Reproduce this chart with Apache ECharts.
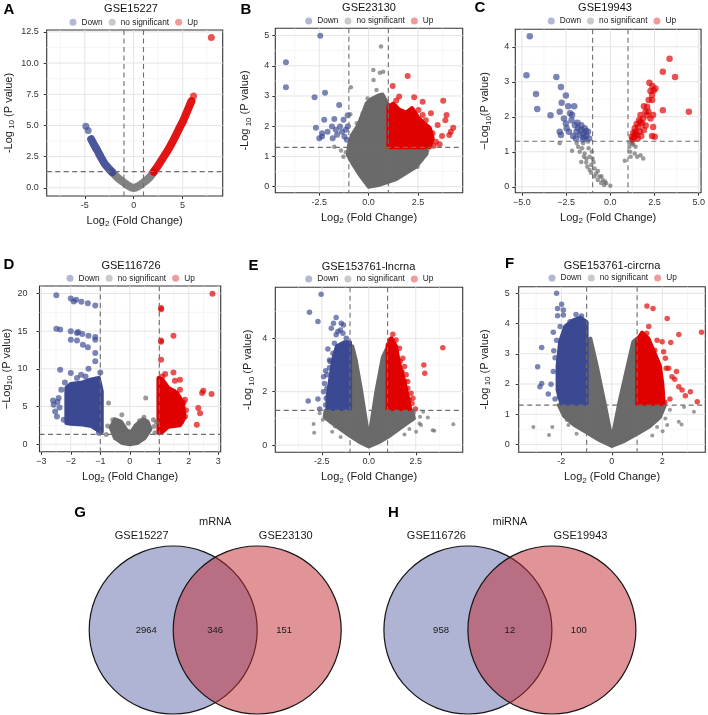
<!DOCTYPE html>
<html>
<head>
<meta charset="utf-8">
<title>Volcano plots and Venn diagrams</title>
<script src="https://cdn.jsdelivr.net/npm/echarts@6/dist/echarts.min.js"></script>
<style>
  html, body { margin: 0; padding: 0; background: #fff; }
  #chart { width: 708px; height: 715px; }
</style>
</head>
<body>
<div id="chart"></div>
<script>
// ---- cut-offs ----
const LOGFC_CUT = [-1, 1];
const P_CUT = [1.3];
const LEGEND_NAMES = ['Down', 'no significant', 'Up'];

// ---- A: GSE15227 ----
const aXTicks = [-5, 0, 5];
const aXLabels = ['-5', '0', '5'];
const aXMinor = [-7.5, -2.5, 2.5, 7.5];
const aYTicks = [0, 2.5, 5, 7.5, 10, 12.5];
const aYLabels = ['0.0', '2.5', '5.0', '7.5', '10.0', '12.5'];
const aYMinor = [1.25, 3.75, 6.25, 8.75, 11.25];
const aDownCurve = [[-4.35, 3.9], [-4.05, 3.45], [-3.72, 3.0], [-3.35, 2.45], [-2.97, 1.93], [-2.55, 1.55], [-2.2, 1.26]];
const aNsCurve = [[-2.2, 1.26], [-1.7, 0.85], [-1.0, 0.42], [-0.5, 0.15], [0, 0], [0.5, 0.15], [1.0, 0.42], [1.6, 0.82], [2.05, 1.26]];
const aUpCurve = [[2.05, 1.3], [2.5, 1.8], [3.04, 2.46], [3.55, 3.1], [4.05, 3.8], [4.55, 4.6], [5.07, 5.4], [5.5, 6.2], [5.9, 6.95]];
const aDown = [[-4.9, 4.93], [-4.66, 4.6]];
const aUp = [[6.12, 7.36], [7.94, 12.04]];

// ---- B: GSE23130 ----
const bXTicks = [-2.5, 0, 2.5];
const bXLabels = ['-2.5', '0.0', '2.5'];
const bXMinor = [-3.75, -1.25, 1.25, 3.75];
const bYTicks = [0, 1, 2, 3, 4, 5];
const bYLabels = ['0', '1', '2', '3', '4', '5'];
const bYMinor = [0.5, 1.5, 2.5, 3.5, 4.5];
const bNsCloud = [[0, 0], [-0.4, 0.35], [-0.8, 0.75], [-1.05, 1.05], [-1.0, 1.35], [-0.85, 1.7], [-0.55, 2.0], [-0.3, 2.4], [-0.1, 2.75], [0.15, 2.9], [0.45, 3.0], [0.7, 3.05], [0.95, 2.75], [1.0, 1.3], [2.0, 1.3], [2.9, 1.3], [2.95, 1.1], [2.4, 0.66], [1.4, 0.25], [0.5, 0.05]];
const bUpCloud = [[1.0, 1.3], [1.0, 2.6], [1.25, 2.75], [1.55, 2.55], [1.9, 2.45], [2.2, 2.6], [2.5, 2.3], [2.8, 2.1], [3.1, 1.95], [3.25, 1.6], [3.1, 1.3]];
const bDown = [[-4.19, 4.12], [-4.19, 3.29], [-2.45, 4.99], [-2.74, 2.96], [-2.21, 3.11], [-1.49, 2.7], [-1.06, 2.36], [-2.67, 1.95], [-2.25, 2.21], [-1.74, 2.24], [-1.27, 2.21], [-2.36, 1.77], [-2.08, 1.82], [-1.86, 1.99], [-1.66, 1.88], [-1.45, 1.99], [-1.35, 1.82], [-1.15, 1.88], [-1.05, 2.0], [-2.36, 1.66], [-1.82, 1.6], [-1.23, 1.66], [-2.5, 1.6], [-1.6, 1.72], [-1.1, 1.55]];
const bNs = [[0.63, 4.64], [0.24, 3.86], [0.57, 3.77], [0.74, 3.8], [0.25, 3.53], [-0.9, 3.29], [-0.93, 2.4], [-1.74, 1.32], [-1.15, 1.14], [-1.28, 0.99], [2.74, 0.99], [2.99, 1.21], [2.48, 0.66], [-0.3, 2.43], [-0.05, 2.92], [0.4, 3.2], [-0.6, 2.1], [-0.8, 1.7], [1.8, 0.5], [2.2, 0.85], [-0.5, 1.2], [-1.4, 1.2]];
const bUp = [[1.22, 3.33], [1.98, 3.66], [1.55, 2.98], [2.31, 2.96], [2.74, 2.81], [3.78, 2.84], [3.95, 2.37], [3.89, 2.2], [4.29, 1.95], [4.17, 1.82], [4.09, 1.71], [3.5, 2.04], [3.24, 1.77], [3.72, 1.68], [3.07, 1.55], [3.41, 1.49], [1.05, 2.67], [2.53, 2.54], [3.16, 2.43], [2.74, 2.37], [3.6, 1.4], [2.9, 2.2], [1.4, 2.85], [3.3, 1.35]];

// ---- C: GSE19943 ----
const cXTicks = [-5, -2.5, 0, 2.5, 5];
const cXLabels = ['\u22125.0', '\u22122.5', '0.0', '2.5', '5.0'];
const cXMinor = [-3.75, -1.25, 1.25, 3.75];
const cYTicks = [0, 1, 2, 3, 4];
const cYLabels = ['0', '1', '2', '3', '4'];
const cYMinor = [0.5, 1.5, 2.5, 3.5];
const cDown = [[-4.55, 4.3], [-4.74, 3.19], [-4.2, 2.65], [-4.13, 2.22], [-3.38, 2.04], [-3.05, 3.14], [-2.79, 2.85], [-2.51, 2.61], [-2.75, 2.4], [-2.86, 2.14], [-2.38, 2.3], [-2.04, 2.3], [-2.27, 2.1], [-2.51, 1.81], [-2.86, 1.57], [-2.79, 1.48], [-2.19, 1.9], [-2.0, 1.76], [-1.82, 1.67], [-1.64, 1.62], [-1.45, 1.67], [-1.91, 1.57], [-1.73, 1.48], [-1.54, 1.52], [-1.36, 1.45], [-1.26, 1.57], [-1.49, 1.41], [-2.16, 2.05], [-2.47, 1.67], [-2.34, 1.57], [-1.86, 1.83], [-1.64, 1.76], [-1.38, 1.59], [-2.1, 1.45], [-1.2, 1.38], [-1.95, 1.38], [-1.55, 1.35], [-2.62, 1.95]];
const cNs = [[-2.86, 1.24], [-2.16, 1.03], [-1.82, 1.14], [-1.54, 1.24], [-1.26, 1.29], [-1.73, 1.0], [-1.45, 0.95], [-1.17, 0.86], [-1.36, 0.69], [-1.08, 0.62], [-0.89, 0.52], [-1.17, 0.48], [-0.8, 0.38], [-0.61, 0.29], [-0.43, 0.19], [-0.24, 0.1], [0, 0.03], [-0.52, 0.11], [-1.08, 0.4], [-1.3, 0.57], [-1.49, 0.86], [-1.64, 0.71], [-0.89, 0.29], [-0.71, 0.19], [-1.23, 1.1], [-1.04, 1.0], [-0.95, 0.7], [-0.7, 0.45], [-1.0, 0.8], [-1.6, 1.1], [-1.35, 0.8], [-1.9, 1.25], [-0.5, 0.3], [-0.3, 0.15], [0.82, 0.74], [1.15, 0.86], [1.12, 1.0], [1.08, 1.14], [1.25, 1.24], [1.43, 1.14], [1.38, 0.95], [1.71, 0.9], [1.86, 0.81], [1.52, 0.86], [1.23, 1.33], [1.3, 1.2], [1.15, 1.25], [-0.35, 0.05]];
const cUp = [[3.35, 3.66], [2.97, 3.29], [3.66, 3.14], [4.44, 2.14], [2.97, 2.19], [2.42, 1.71], [2.36, 1.45], [2.51, 1.43], [2.38, 2.88], [2.55, 2.81], [2.27, 2.74], [2.36, 2.62], [2.17, 2.48], [2.08, 2.29], [1.9, 2.3], [1.99, 2.14], [1.71, 2.05], [1.62, 1.9], [1.49, 1.79], [1.38, 1.67], [1.3, 1.54], [1.21, 1.43], [1.43, 1.57], [1.58, 1.71], [1.8, 1.81], [1.9, 1.62], [2.36, 2.48], [2.42, 2.05], [2.27, 1.95], [2.08, 2.05], [1.86, 1.95], [1.67, 1.57], [1.49, 1.48], [1.34, 1.41], [2.21, 2.97], [1.75, 1.45], [1.55, 1.38], [2.0, 1.75], [1.7, 1.85], [2.15, 2.15], [1.25, 1.35], [1.4, 1.5], [2.45, 2.75]];

// ---- D: GSE116726 ----
const dXTicks = [-3, -2, -1, 0, 1, 2, 3];
const dXLabels = ['\u22123', '\u22122', '\u22121', '0', '1', '2', '3'];
const dXMinor = [-2.5, -1.5, -0.5, 0.5, 1.5, 2.5];
const dYTicks = [0, 5, 10, 15, 20];
const dYLabels = ['0', '5', '10', '15', '20'];
const dYMinor = [2.5, 7.5, 12.5, 17.5];
const dNsCloud = [[-0.65, 2.2], [-0.5, 3.3], [-0.3, 3.0], [-0.1, 1.8], [0.05, 1.6], [0.2, 2.5], [0.45, 3.3], [0.6, 3.0], [0.7, 2.0], [0.5, 0.8], [0.25, 0.15], [0, 0], [-0.25, 0.15], [-0.5, 0.8]];
const dDownCloud = [[-2.15, 2.8], [-2.15, 7.5], [-2.0, 8.0], [-1.6, 8.2], [-1.3, 8.6], [-1.05, 8.8], [-0.95, 7.0], [-0.95, 1.6], [-1.1, 1.9], [-1.3, 2.4], [-1.6, 2.6], [-2.0, 2.7]];
const dUpCloud = [[0.97, 1.5], [0.97, 8.8], [1.1, 8.6], [1.3, 7.5], [1.6, 6.8], [1.8, 5.5], [1.85, 3.5], [1.7, 2.5], [1.3, 2.3], [1.1, 1.6]];
const dDown = [[-2.49, 19.78], [-2.0, 19.33], [-1.82, 19.16], [-1.64, 18.9], [-1.42, 18.71], [-1.17, 18.4], [-2.49, 15.34], [-2.36, 15.21], [-2.0, 14.99], [-1.79, 14.77], [-1.61, 14.63], [-1.4, 14.41], [-1.17, 14.24], [-2.0, 13.88], [-1.79, 13.75], [-1.59, 13.21], [-1.42, 12.86], [-1.17, 13.88], [-1.17, 12.11], [-2.36, 9.89], [-2.0, 9.45], [-1.4, 10.02], [-1.65, 9.22], [-1.17, 11.0], [-1.79, 8.78], [-1.17, 8.56], [-2.58, 5.23], [-2.47, 3.68], [-2.24, 3.24], [-2.41, 6.12], [-2.32, 7.23], [-2.53, 4.35], [-2.38, 4.88], [-2.6, 5.8], [-2.45, 5.6], [-2.2, 8.2], [-1.5, 9.0], [-1.0, 9.5], [-1.05, 1.5], [-1.9, 18.95], [-1.75, 14.9]];
const dNs = [[-0.72, 5.45], [-0.58, 3.24], [-0.27, 3.9], [-0.05, 2.79], [0.54, 6.12], [0.48, 3.59], [0.8, 3.24], [0.82, 2.35], [0.33, 3.1], [-0.75, 2.4], [0.85, 1.5], [-0.8, 1.3], [0.9, 2.9]];
const dUp = [[1.06, 18.09], [1.06, 13.75], [1.06, 11.22], [1.48, 14.41], [1.48, 9.53], [1.2, 9.31], [1.53, 8.43], [1.7, 8.56], [1.7, 7.23], [1.48, 7.0], [1.82, 5.54], [1.87, 3.68], [2.32, 4.79], [2.38, 4.12], [2.27, 2.57], [2.49, 7.1], [2.45, 6.78], [2.77, 6.65], [2.8, 19.96], [1.87, 5.9], [1.06, 17.9], [1.06, 13.6], [1.1, 9.0], [1.9, 4.5], [1.75, 3.0]];

// ---- E: GSE153761-lncrna ----
const eXTicks = [-2.5, 0, 2.5];
const eXLabels = ['-2.5', '0.0', '2.5'];
const eXMinor = [-3.75, -1.25, 1.25, 3.75];
const eYTicks = [0, 2, 4];
const eYLabels = ['0', '2', '4'];
const eYMinor = [1, 3, 5];
const eNsCloud = [[0, -0.05], [-0.5, 0.12], [-1.0, 0.35], [-1.5, 0.6], [-2.0, 0.85], [-2.35, 1.05], [-2.3, 1.3], [-1.0, 1.3], [-1.0, 3.6], [-0.88, 3.7], [-0.7, 3.2], [-0.4, 2.0], [-0.1, 0.65], [0, 0.55], [0.1, 0.65], [0.4, 2.0], [0.75, 3.3], [0.95, 3.6], [1.0, 1.3], [2.3, 1.3], [2.4, 1.0], [2.0, 0.8], [1.5, 0.55], [1.0, 0.3], [0.5, 0.1]];
const eDownCloud = [[-1.0, 1.35], [-1.0, 3.85], [-1.3, 3.85], [-1.7, 3.7], [-1.9, 3.2], [-2.05, 2.5], [-2.2, 1.8], [-2.2, 1.35]];
const eUpCloud = [[1.0, 1.35], [1.0, 3.75], [1.2, 4.0], [1.45, 3.7], [1.6, 3.1], [1.85, 2.5], [2.05, 1.9], [2.2, 1.35]];
const eDown = [[-2.54, 5.65], [-3.16, 4.98], [-2.71, 4.63], [-1.74, 4.78], [-1.88, 4.56], [-1.47, 4.56], [-2.0, 4.38], [-1.65, 4.25], [-1.38, 4.19], [-1.74, 4.13], [-1.83, 3.81], [-2.18, 3.6], [-2.09, 3.19], [-1.91, 3.44], [-2.3, 2.78], [-2.41, 2.56], [-2.23, 2.63], [-2.36, 2.31], [-2.41, 2.0], [-2.23, 2.13], [-3.23, 1.65], [-2.71, 1.73], [-2.62, 1.35], [-2.27, 1.75], [-2.06, 3.13], [-1.51, 4.31], [-1.35, 4.5], [-1.2, 4.0], [-2.1, 2.9], [-2.3, 1.5]];
const eNs = [[-2.94, 0.79], [-2.91, 0.46], [-1.95, 0.5], [-2.27, 1.0], [3.14, 1.03], [2.73, 1.06], [3.4, 0.56], [3.49, 0.54], [4.5, 0.78], [2.7, 0.81], [2.52, 0.5], [2.16, 0.6], [2.78, 0.75], [-2.13, 1.25], [-2.62, 1.19], [-2.45, 0.95], [-1.8, 0.7], [2.4, 1.2], [1.9, 0.4], [-1.5, 0.3], [2.9, 1.25]];
const eUp = [[1.28, 4.15], [1.45, 3.94], [1.63, 3.63], [1.42, 3.5], [1.67, 3.13], [1.9, 2.94], [1.77, 2.75], [1.99, 2.63], [1.9, 2.38], [2.07, 2.38], [2.07, 2.13], [2.25, 1.94], [2.3, 1.56], [2.48, 1.35], [2.93, 3.0], [2.98, 2.69], [3.94, 3.65], [1.13, 3.94], [1.24, 3.44], [1.81, 3.25], [2.15, 1.7], [2.35, 1.75]];

// ---- F: GSE153761-circrna ----
const fXTicks = [-2, 0, 2];
const fXLabels = ['-2', '0', '2'];
const fXMinor = [-3, -1, 1, 3];
const fYTicks = [0, 1, 2, 3, 4, 5];
const fYLabels = ['0', '1', '2', '3', '4', '5'];
const fYMinor = [0.5, 1.5, 2.5, 3.5, 4.5];
const fNsCloud = [[0, -0.05], [-0.5, 0.15], [-1.0, 0.4], [-1.5, 0.65], [-1.9, 0.95], [-2.1, 1.3], [-1.0, 1.3], [-1.0, 3.4], [-0.85, 3.5], [-0.6, 2.6], [-0.3, 1.4], [-0.05, 0.35], [0, 0.25], [0.05, 0.35], [0.3, 1.4], [0.6, 2.5], [0.85, 3.4], [1.0, 3.5], [1.0, 1.3], [2.1, 1.3], [1.9, 0.9], [1.5, 0.6], [1.0, 0.35], [0.5, 0.12]];
const fDownCloud = [[-1.0, 1.35], [-1.0, 4.05], [-1.25, 4.2], [-1.55, 4.1], [-1.85, 3.9], [-2.05, 3.4], [-2.15, 2.6], [-2.15, 1.8], [-2.0, 1.35]];
const fUpCloud = [[1.0, 1.35], [1.0, 3.45], [1.2, 3.7], [1.45, 3.5], [1.65, 3.1], [1.9, 2.6], [2.0, 2.0], [2.05, 1.35]];
const fDown = [[-2.19, 5.0], [-1.99, 4.64], [-2.15, 4.5], [-1.92, 4.45], [-2.15, 4.26], [-1.92, 4.28], [-2.32, 3.71], [-2.05, 3.9], [-2.19, 3.45], [-2.78, 3.21], [-2.94, 2.57], [-2.78, 2.02], [-2.85, 1.91], [-2.41, 1.99], [-2.52, 1.67], [-2.25, 2.87], [-2.32, 2.41], [-2.09, 2.63], [-2.08, 1.58], [-1.99, 1.85], [-1.42, 4.3], [-1.66, 4.06], [-2.3, 3.1], [-2.25, 1.5], [-1.2, 4.25]];
const fNs = [[-3.11, 0.58], [-2.49, 0.31], [-2.36, 0.58], [-1.88, 0.97], [-1.79, 0.81], [-1.72, 0.64], [2.12, 0.86], [2.19, 0.64], [2.65, 0.75], [2.76, 0.66], [2.86, 1.24], [3.25, 1.08], [2.01, 0.44], [1.79, 0.58], [-1.59, 1.03], [-2.0, 1.2], [2.3, 1.15], [1.6, 0.3], [-1.4, 0.35]];
const fUp = [[1.39, 4.58], [1.63, 4.5], [1.46, 3.9], [1.38, 3.68], [2.19, 4.17], [1.79, 3.45], [1.99, 3.4], [2.33, 3.37], [2.65, 3.64], [3.55, 3.71], [2.05, 3.07], [1.7, 3.12], [2.12, 2.85], [1.79, 2.74], [2.15, 2.52], [2.56, 2.41], [2.38, 2.24], [2.49, 2.16], [2.65, 1.91], [2.78, 1.8], [3.11, 1.74], [2.91, 1.61], [3.38, 1.41], [1.92, 2.07], [2.25, 2.52], [1.99, 1.74], [2.3, 1.5], [2.1, 1.4]];

// ---- G / H: Venn diagrams ----
const vennCircles = [[-0.5, 0, 1], [0.5, 0, 1]];
const gTitle = 'mRNA';
const gSets = ['GSE15227', 'GSE23130'];
const gCounts = [2964, 346, 151];
const hTitle = 'miRNA';
const hSets = ['GSE116726', 'GSE19943'];
const hCounts = [958, 12, 100];
const vennCountX = [-0.82, 0, 0.82];

// ---------------------------------------------------------------
const FONT = 'Liberation Sans, Arial, Helvetica, sans-serif';
const COL_DOWN = '#3B4992';
const COL_UP = '#E00000';
const COL_NS = '#6A6A6A';
const LEGEND_COLORS = ['rgba(59,73,146,0.58)', 'rgba(110,110,110,0.55)', 'rgba(224,0,0,0.58)'];

const chart = echarts.init(document.getElementById('chart'), null, { renderer: 'canvas' });

const Y_NAME_DASH = '{a|-Log}{s| 10}{a| (P value)}';
const X_NAME = '{a|Log}{s|2}{a| (Fold Change)}';

const PANELS = [
  {
    letter: 'A', letterPos: [9, 10], title: 'GSE15227', titlePos: [131, 8.5], legendPos: [69.5, 23.3],
    grid: { left: 46.7, top: 30, width: 176, height: 166 }, xr: [-8.9, 9.1], yr: [-0.65, 12.65],
    xTicks: aXTicks, xLabels: aXLabels, xMinor: aXMinor, yTicks: aYTicks, yLabels: aYLabels, yMinor: aYMinor,
    yName: Y_NAME_DASH, yGap: 31, yMargin: 8,
    curves: [[aNsCurve, '#777777'], [aDownCurve, COL_DOWN], [aUpCurve, COL_UP]],
    down: aDown, up: aUp, sigSize: 7, nsSize: 7,
  },
  {
    letter: 'B', letterPos: [246, 10], title: 'GSE23130', titlePos: [369, 7.5], legendPos: [305.2, 22],
    grid: { left: 275.3, top: 28.3, width: 187.4, height: 164.4 }, xr: [-4.73, 4.77], yr: [-0.2, 5.24],
    xTicks: bXTicks, xLabels: bXLabels, xMinor: bXMinor, yTicks: bYTicks, yLabels: bYLabels, yMinor: bYMinor,
    yName: Y_NAME_DASH, yGap: 23, yMargin: 6,
    clouds: [[bNsCloud, COL_NS], [bUpCloud, COL_UP]],
    down: bDown, ns: bNs, up: bUp, sigSize: 6, nsSize: 4.5,
  },
  {
    letter: 'C', letterPos: [480, 8], title: 'GSE19943', titlePos: [605, 7.5], legendPos: [547.8, 22],
    grid: { left: 515.3, top: 29.3, width: 188.4, height: 163.4 }, xr: [-5.37, 5.13], yr: [-0.17, 4.5],
    xTicks: cXTicks, xLabels: cXLabels, xMinor: cXMinor, yTicks: cYTicks, yLabels: cYLabels, yMinor: cYMinor,
    yName: '{a|\u2212Log}{s|10}{a|(P value)}', yGap: 23, yMargin: 6,
    down: cDown, ns: cNs, up: cUp, sigSize: 6.5, nsSize: 4.5,
  },
  {
    letter: 'D', letterPos: [9, 265], title: 'GSE116726', titlePos: [131, 265.7], legendPos: [66.5, 279.3],
    grid: { left: 39.3, top: 286, width: 181.4, height: 165.7 }, xr: [-3.06, 3.08], yr: [-1, 21],
    xTicks: dXTicks, xLabels: dXLabels, xMinor: dXMinor, yTicks: dYTicks, yLabels: dYLabels, yMinor: dYMinor,
    yName: '{a|\u2212Log}{s|10}{a| (P value)}', yGap: 26, yMargin: 12,
    clouds: [[dNsCloud, COL_NS], [dDownCloud, COL_DOWN], [dUpCloud, COL_UP]],
    down: dDown, ns: dNs, up: dUp, sigSize: 6, nsSize: 5,
  },
  {
    letter: 'E', letterPos: [253.5, 266], title: 'GSE153761-lncrna', titlePos: [368.5, 266.7], legendPos: [305.2, 280],
    grid: { left: 275.3, top: 287.3, width: 187.4, height: 165 }, xr: [-4.98, 5.0], yr: [-0.27, 5.91],
    xTicks: eXTicks, xLabels: eXLabels, xMinor: eXMinor, yTicks: eYTicks, yLabels: eYLabels, yMinor: eYMinor,
    yName: Y_NAME_DASH, yGap: 20, yMargin: 8,
    clouds: [[eNsCloud, COL_NS], [eDownCloud, COL_DOWN], [eUpCloud, COL_UP]],
    down: eDown, ns: eNs, up: eUp, sigSize: 5.5, nsSize: 4,
  },
  {
    letter: 'F', letterPos: [509.5, 264], title: 'GSE153761-circrna', titlePos: [612, 265.7], legendPos: [548.5, 279],
    grid: { left: 518.7, top: 286.7, width: 186.6, height: 165.6 }, xr: [-3.69, 3.7], yr: [-0.26, 5.22],
    xTicks: fXTicks, xLabels: fXLabels, xMinor: fXMinor, yTicks: fYTicks, yLabels: fYLabels, yMinor: fYMinor,
    yName: Y_NAME_DASH, yGap: 27, yMargin: 9,
    clouds: [[fNsCloud, COL_NS], [fDownCloud, COL_DOWN], [fUpCloud, COL_UP]],
    down: fDown, ns: fNs, up: fUp, sigSize: 5.5, nsSize: 4,
  },
];

const VENNS = [
  { letter: 'G', letterPos: [80, 513], title: gTitle, sets: gSets, counts: gCounts, center: 215.2 },
  { letter: 'H', letterPos: [393.3, 513], title: hTitle, sets: hSets, counts: hCounts, center: 509.9 },
];
const VENN_SCALE = 84; // px per unit radius
const VENN_CY = 630;
const VENN_FILLS = ['rgba(97,105,169,0.5)', 'rgba(193,41,49,0.5)'];

const nameRich = {
  a: { fontSize: 11, lineHeight: 14, fontFamily: FONT, color: '#1a1a1a' },
  s: { fontSize: 8, lineHeight: 8, fontFamily: FONT, color: '#1a1a1a', verticalAlign: 'bottom' },
};

function ruleShape(params, api) {
  const v = api.value(0);
  const dir = api.value(1);
  const cs = params.coordSys;
  if (dir === 0) {
    const x = api.coord([v, 0])[0];
    return { x1: x, y1: cs.y, x2: x, y2: cs.y + cs.height };
  }
  const y = api.coord([0, v])[1];
  return { x1: cs.x, y1: y, x2: cs.x + cs.width, y2: y };
}

function gridRender(params, api) {
  const minor = api.value(2);
  return {
    type: 'line',
    shape: ruleShape(params, api),
    style: { stroke: minor ? '#F2F2F2' : '#E4E4E4', lineWidth: minor ? 0.7 : 1 },
  };
}

function cutRender(params, api) {
  return {
    type: 'line',
    shape: ruleShape(params, api),
    style: { stroke: '#6E6E6E', lineWidth: 1.1, lineDash: [5, 3.5] },
  };
}

// dense point clouds: filled outline plus a soft round-joined rim
function polyRender(verts, color) {
  return function (params, api) {
    if (params.dataIndex !== 0) return null;
    const pts = verts.map((p) => api.coord(p));
    return {
      type: 'group',
      children: [
        { type: 'polygon', shape: { points: pts }, style: { fill: color } },
        {
          type: 'polyline', shape: { points: pts.concat([pts[0]]) },
          style: { fill: null, stroke: color, lineWidth: 4, lineJoin: 'round', lineCap: 'round', lineDash: null },
        },
      ],
    };
  };
}

function gridData(p) {
  const out = [];
  p.xMinor.forEach((v) => out.push([v, 0, 1]));
  p.yMinor.forEach((v) => out.push([v, 1, 1]));
  p.xTicks.forEach((v) => out.push([v, 0, 0]));
  p.yTicks.forEach((v) => out.push([v, 1, 0]));
  return out;
}

function cutData() {
  const out = [];
  LOGFC_CUT.forEach((v) => out.push([v, 0]));
  P_CUT.forEach((v) => out.push([v, 1]));
  return out;
}

function scatter(name, data, color, size, i) {
  return {
    type: 'scatter', name: name, xAxisIndex: i, yAxisIndex: i, z: 3, silent: true,
    symbol: 'circle', symbolSize: size, data: data,
    itemStyle: { color: color, opacity: 0.68 },
  };
}

const grids = [];
const xAxes = [];
const yAxes = [];
const series = [];
const legends = [];
const graphics = [];

PANELS.forEach((p, i) => {
  grids.push(Object.assign({ show: true, backgroundColor: '#fff', borderColor: '#333', borderWidth: 1.1 }, p.grid));
  xAxes.push({
    gridIndex: i, type: 'value', min: p.xr[0], max: p.xr[1],
    axisLine: { show: false, onZero: false }, splitLine: { show: false },
    axisTick: { show: true, customValues: p.xTicks, length: 3, lineStyle: { color: '#333' } },
    axisLabel: {
      customValues: p.xTicks, fontSize: 9, fontFamily: FONT, color: '#333', margin: 5,
      formatter: (v) => p.xLabels[p.xTicks.indexOf(v)],
    },
    name: X_NAME, nameLocation: 'middle', nameGap: 18,
    nameTextStyle: { rich: nameRich },
  });
  yAxes.push({
    gridIndex: i, type: 'value', min: p.yr[0], max: p.yr[1],
    axisLine: { show: false, onZero: false }, splitLine: { show: false },
    axisTick: { show: true, customValues: p.yTicks, length: 3, lineStyle: { color: '#333' } },
    axisLabel: {
      customValues: p.yTicks, fontSize: 9, fontFamily: FONT, color: '#333', margin: p.yMargin,
      formatter: (v) => p.yLabels[p.yTicks.indexOf(v)],
    },
    name: p.yName, nameLocation: 'middle', nameGap: p.yGap,
    nameTextStyle: { rich: nameRich },
  });

  series.push({
    type: 'custom', name: 'grid' + i, xAxisIndex: i, yAxisIndex: i, z: 1, silent: true,
    renderItem: gridRender, data: gridData(p),
  });
  (p.clouds || []).forEach(([pts, color], k) => {
    series.push({
      type: 'custom', name: 'cloud' + i + '_' + k, xAxisIndex: i, yAxisIndex: i, z: 2, silent: true,
      renderItem: polyRender(pts, color), data: pts,
    });
  });
  (p.curves || []).forEach(([pts, color], k) => {
    series.push({
      type: 'line', name: 'curve' + i + '_' + k, xAxisIndex: i, yAxisIndex: i, z: 2, silent: true,
      data: pts, showSymbol: false, smooth: 0.3,
      lineStyle: { color: color, width: 8, cap: 'round', join: 'round', opacity: 0.92 },
    });
  });
  if (p.ns) series.push(scatter('no significant', p.ns, COL_NS, p.nsSize, i));
  series.push(scatter('Down', p.down, COL_DOWN, p.sigSize, i));
  series.push(scatter('Up', p.up, COL_UP, p.sigSize, i));
  series.push({
    type: 'custom', name: 'cut' + i, xAxisIndex: i, yAxisIndex: i, z: 5, silent: true,
    renderItem: cutRender, data: cutData(),
  });

  legends.push({
    left: p.legendPos[0], top: p.legendPos[1] - 5, orient: 'horizontal',
    itemWidth: 7, itemHeight: 7, itemGap: 6, padding: 0, selectedMode: false,
    textStyle: { fontSize: 8.3, fontFamily: FONT, color: '#222' },
    data: LEGEND_NAMES.map((n, k) => ({ name: n, icon: 'circle', itemStyle: { color: LEGEND_COLORS[k] } })),
  });

  graphics.push({
    type: 'text', x: p.titlePos[0], y: p.titlePos[1], silent: true,
    style: { text: p.title, font: '11px ' + FONT, fill: '#111', textAlign: 'center', textVerticalAlign: 'middle' },
  });
  graphics.push({
    type: 'text', x: p.letterPos[0], y: p.letterPos[1], silent: true,
    style: { text: p.letter, font: 'bold 15px ' + FONT, fill: '#000', textAlign: 'center', textVerticalAlign: 'middle' },
  });
});

// Venn grids: 84 px per unit, x in [-1.7, 1.7], y in [-1, 1]
VENNS.forEach((v, k) => {
  const gi = PANELS.length + k;
  grids.push({ left: v.center - 1.7 * VENN_SCALE, top: VENN_CY - VENN_SCALE, width: 3.4 * VENN_SCALE, height: 2 * VENN_SCALE });
  xAxes.push({ gridIndex: gi, type: 'value', min: -1.7, max: 1.7, show: false });
  yAxes.push({ gridIndex: gi, type: 'value', min: -1, max: 1, show: false });
  series.push({
    type: 'custom', name: 'venn' + k, xAxisIndex: gi, yAxisIndex: gi, z: 2, silent: true,
    data: vennCircles,
    renderItem: (params, api) => {
      const c = api.coord([api.value(0), api.value(1)]);
      const r = api.size([api.value(2), 0])[0];
      return {
        type: 'circle', shape: { cx: c[0], cy: c[1], r: r },
        style: { fill: VENN_FILLS[params.dataIndex], stroke: '#151515', lineWidth: 1.2 },
      };
    },
  });
  const labels = [
    [vennCountX[0], 0, String(v.counts[0]), 9.5],
    [vennCountX[1], 0, String(v.counts[1]), 9.5],
    [vennCountX[2], 0, String(v.counts[2]), 9.5],
    [-0.875, 1.12, v.sets[0], 11],
    [0.84, 1.12, v.sets[1], 11],
    [0, 1.29, v.title, 11],
  ];
  series.push({
    type: 'custom', name: 'vennLabels' + k, xAxisIndex: gi, yAxisIndex: gi, z: 4, silent: true,
    data: labels.map((l) => [l[0], l[1]]),
    renderItem: (params, api) => {
      const l = labels[params.dataIndex];
      const c = api.coord([api.value(0), api.value(1)]);
      return {
        type: 'text', x: c[0], y: c[1],
        style: { text: l[2], font: l[3] + 'px ' + FONT, fill: '#1a1a1a', textAlign: 'center', textVerticalAlign: 'middle' },
      };
    },
  });
  graphics.push({
    type: 'text', x: v.letterPos[0], y: v.letterPos[1], silent: true,
    style: { text: v.letter, font: 'bold 15px ' + FONT, fill: '#000', textAlign: 'center', textVerticalAlign: 'middle' },
  });
});

chart.setOption({
  animation: false,
  backgroundColor: '#fff',
  textStyle: { fontFamily: FONT },
  grid: grids,
  xAxis: xAxes,
  yAxis: yAxes,
  legend: legends,
  graphic: graphics,
  series: series,
});

window.addEventListener('resize', () => chart.resize());
</script>
</body>
</html>
